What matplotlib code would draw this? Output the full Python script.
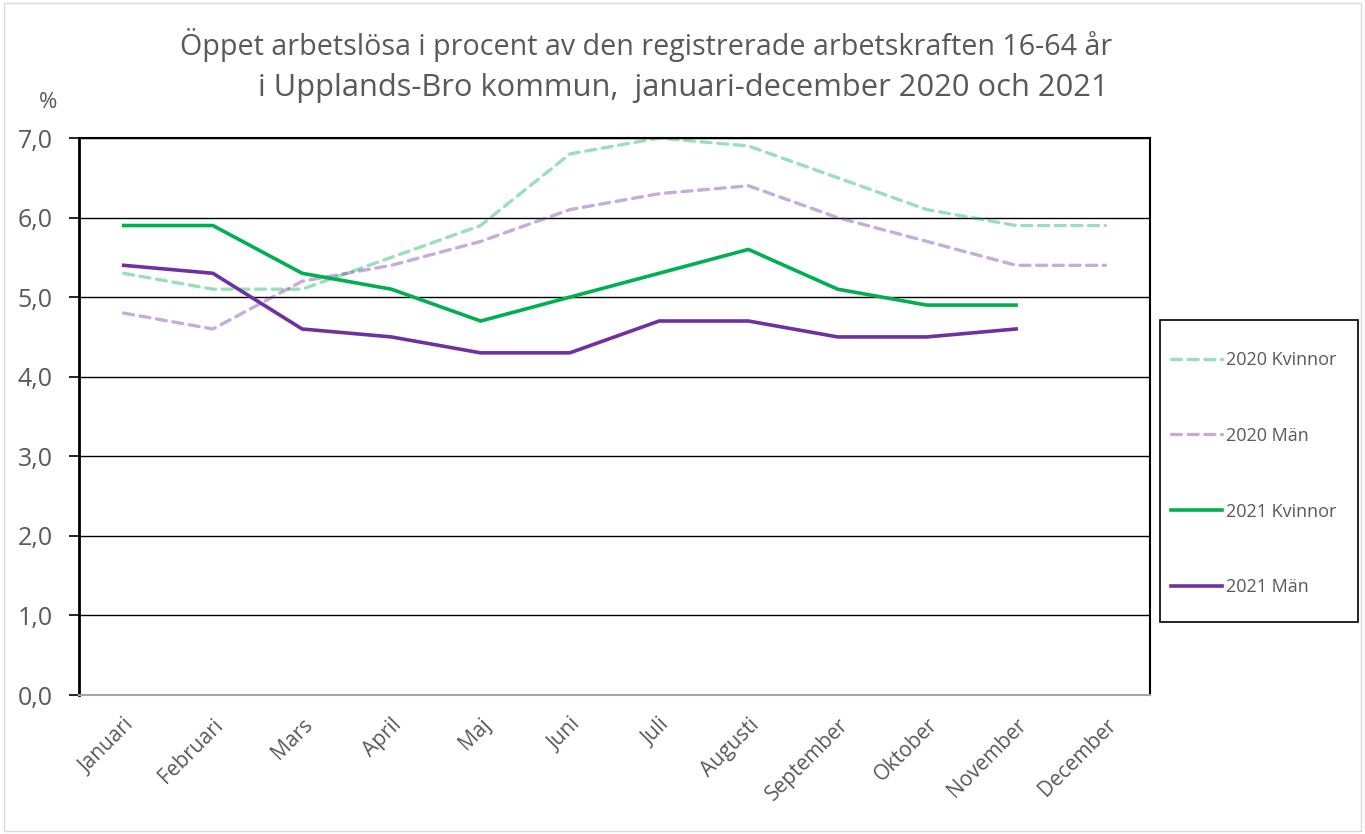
import matplotlib
matplotlib.use('Agg')
from matplotlib import pyplot as plt
import numpy as np

plt.rcParams['font.family'] = ['Open Sans', 'DejaVu Sans']

months = ['Januari', 'Februari', 'Mars', 'April', 'Maj', 'Juni', 'Juli',
          'Augusti', 'September', 'Oktober', 'November', 'December']
kvinnor_2020 = [5.3, 5.1, 5.1, 5.5, 5.9, 6.8, 7.0, 6.9, 6.5, 6.1, 5.9, 5.9]
man_2020 = [4.8, 4.6, 5.2, 5.4, 5.7, 6.1, 6.3, 6.4, 6.0, 5.7, 5.4, 5.4]
kvinnor_2021 = [5.9, 5.9, 5.3, 5.1, 4.7, 5.0, 5.3, 5.6, 5.1, 4.9, 4.9]
man_2021 = [5.4, 5.3, 4.6, 4.5, 4.3, 4.3, 4.7, 4.7, 4.5, 4.5, 4.6]

green = '#00B050'
purple = '#7030A0'
grey = '#595959'

W, H = 1365, 834
fig = plt.figure(figsize=(W / 100, H / 100), dpi=100)
ax = fig.add_axes([79/W, 1 - 695/H, (1150-79)/W, (695-138)/H])

x = np.arange(len(months))
ax.plot(x, kvinnor_2020, color=green, alpha=0.4, lw=2.4, ls=(0, (3, 2)),
        dash_capstyle='round', label='2020 Kvinnor')
ax.plot(x, man_2020, color=purple, alpha=0.4, lw=2.4, ls=(0, (3, 2)),
        dash_capstyle='round', label='2020 Män')
ax.plot(x[:len(kvinnor_2021)], kvinnor_2021, color=green, lw=2.6,
        label='2021 Kvinnor')
ax.plot(x[:len(man_2021)], man_2021, color=purple, lw=2.6,
        label='2021 Män')

ax.set_xlim(-0.5, len(months) - 0.5)
ax.set_ylim(0, 7)
ax.set_yticks(np.arange(0, 8, 1))
ax.set_yticklabels([f'{v:.1f}'.replace('.', ',') for v in range(8)],
                   fontsize=18, color=grey)
ax.set_xticks(x)
ax.set_xticklabels(months, rotation=45, ha='right', rotation_mode='anchor',
                   fontsize=15, color=grey)
ax.tick_params(axis='x', length=0, pad=14)
ax.tick_params(axis='y', length=7, width=1.2, color='black', pad=12)
ax.grid(axis='y', color='black', lw=1)
ax.set_axisbelow(True)
for side in ['left', 'top', 'right']:
    ax.spines[side].set_color('black')
    ax.spines[side].set_linewidth(1.5)
ax.spines['left'].set_linewidth(2)
ax.spines['bottom'].set_color('#A6A6A6')
ax.spines['bottom'].set_linewidth(1.5)

fig.text(646/W, 1 - 45/H,
         'Öppet arbetslösa i procent av den registrerade arbetskraften 16-64 år',
         ha='center', va='center', fontsize=20.6, color=grey)
fig.text(683/W, 1 - 88/H,
         'i Upplands-Bro kommun,  januari-december 2020 och 2021',
         ha='center', va='center', fontsize=22.2, color=grey)
fig.text(48/W, 1 - 103/H, '%', ha='center', va='center',
         fontsize=16, color=grey)

# legend box drawn separately so the padding can differ per side
fig.patches.append(plt.Rectangle((1160/W, 1 - 622/H), 198/W, 302/H,
                                 transform=fig.transFigure, fill=False,
                                 edgecolor='black', lw=1.2))
leg = fig.legend(loc='upper left', bbox_to_anchor=(1171/W, 1 - 351/H),
                 fontsize=13, frameon=False, labelspacing=3.2,
                 handlelength=2.8, borderpad=0, handletextpad=0.25,
                 borderaxespad=0)
for t in leg.get_texts():
    t.set_color(grey)

fig.patches.append(plt.Rectangle((0.003, 0.003), 0.994, 0.994,
                                 transform=fig.transFigure, fill=False,
                                 edgecolor='#D9D9D9', lw=1))

fig.savefig('out.png', dpi=100)
